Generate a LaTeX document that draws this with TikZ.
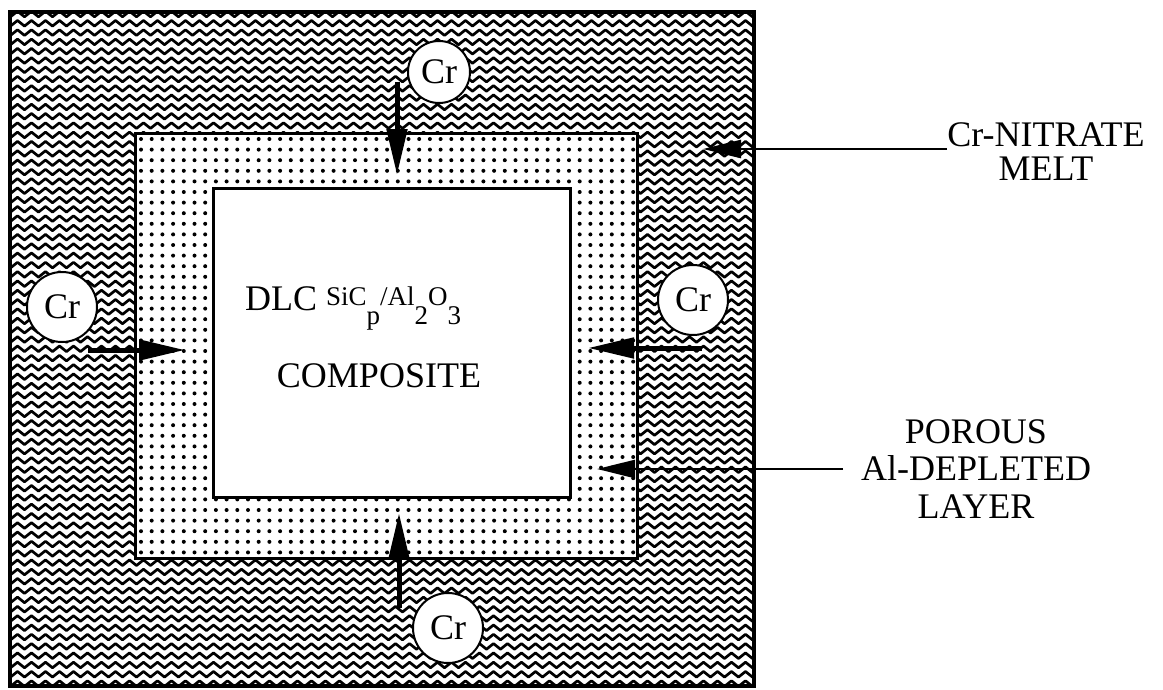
\documentclass[tikz,border=0pt]{standalone}
\usepackage{fontspec}
\setmainfont{Liberation Serif}
\usetikzlibrary{arrows.meta,decorations.pathmorphing}
\begin{document}
\begin{tikzpicture}[x=1pt,y=-1pt,
  crcircle/.style={circle,draw,line width=2pt,fill=white,minimum size=70pt,inner sep=0pt,font=\fontsize{36pt}{38pt}\selectfont},
  bigarrow/.style={line width=5pt,-{Triangle[length=46pt,width=20pt]}},
  labelarrow/.style={line width=2.5pt,-{Triangle[length=38pt,width=18pt]}},
  lbl/.style={align=center,font=\fontsize{36pt}{37pt}\selectfont,inner sep=0pt},
  wave/.style={line width=2.7pt,line join=round,decorate,decoration={zigzag,segment length=14pt,amplitude=2.8pt}},
  border/.style={draw,line width=3pt}
]
\useasboundingbox (0,0) rectangle (1163,689);
% melt (wavy region)
\begin{scope}
  \clip (10,12) rectangle (754,686);
  \foreach \i in {0,...,73} {
    \draw[wave] (0,{14+\i*9.3}) -- (775,{14+\i*9.3});
  }
\end{scope}
% porous layer (dotted)
\fill[white] (135,133) rectangle (637,558);
\begin{scope}
  \clip (135,133) rectangle (637,558);
  \foreach \x in {0,...,47} {
    \foreach \y in {0,...,40} {
      \fill ({141+\x*10.7},{139+\y*10.6}) circle (2);
    }
  }
\end{scope}
\draw[line width=3pt] (135,133) rectangle (637,558);
\draw[line width=4pt] (10,12) rectangle (754,686);
% composite core
\node (core) [border,fill=white,minimum width=357pt,minimum height=309pt,inner sep=0pt] at (391.5,342.5) {};
\node (t1) [anchor=base west,inner sep=0pt,font=\fontsize{36pt}{37pt}\selectfont] at (245,310)
  {DLC {\fontsize{27pt}{28pt}\selectfont\raisebox{5pt}{SiC}\raisebox{-14pt}{p}\raisebox{5pt}{/Al}\raisebox{-14pt}{2}\raisebox{5pt}{O}\raisebox{-14pt}{3}}};
\node (t2) [anchor=base,inner sep=0pt,font=\fontsize{36pt}{37pt}\selectfont] at (379,387) {COMPOSITE};
% Cr circles
\node (crT) [crcircle,minimum size=62pt] at (439,72) {Cr};
\node (crL) [crcircle] at (62,307) {Cr};
\node (crR) [crcircle] at (693,300) {Cr};
\node (crB) [crcircle] at (448,628) {Cr};
% arrow endpoints
\coordinate (aTs) at (397,82);  \coordinate (aTe) at (397,175);
\coordinate (aLs) at (88,350);  \coordinate (aLe) at (185,350);
\coordinate (aRs) at (702,348); \coordinate (aRe) at (588,348);
\coordinate (aBs) at (399,608); \coordinate (aBe) at (399,513);
\draw[bigarrow] (aTs) -- (aTe);
\draw[bigarrow] (aLs) -- (aLe);
\draw[bigarrow] (aRs) -- (aRe);
\draw[bigarrow] (aBs) -- (aBe);
% labels
\node (melt) [lbl,anchor=base] at (1046,146) {Cr-NITRATE};
\node (melt2) [lbl,anchor=base] at (1046,180) {MELT};
\coordinate (mS) at (947,149); \coordinate (mE) at (703,149);
\draw[labelarrow] (mS) -- (mE);
\node (por1) [lbl,anchor=base] at (976,443) {POROUS};
\node (por2) [lbl,anchor=base] at (976,480) {Al-DEPLETED};
\node (por3) [lbl,anchor=base] at (976,518) {LAYER};
\coordinate (pS) at (843,469); \coordinate (pE) at (597,469);
\draw[labelarrow] (pS) -- (pE);
\end{tikzpicture}
\end{document}
